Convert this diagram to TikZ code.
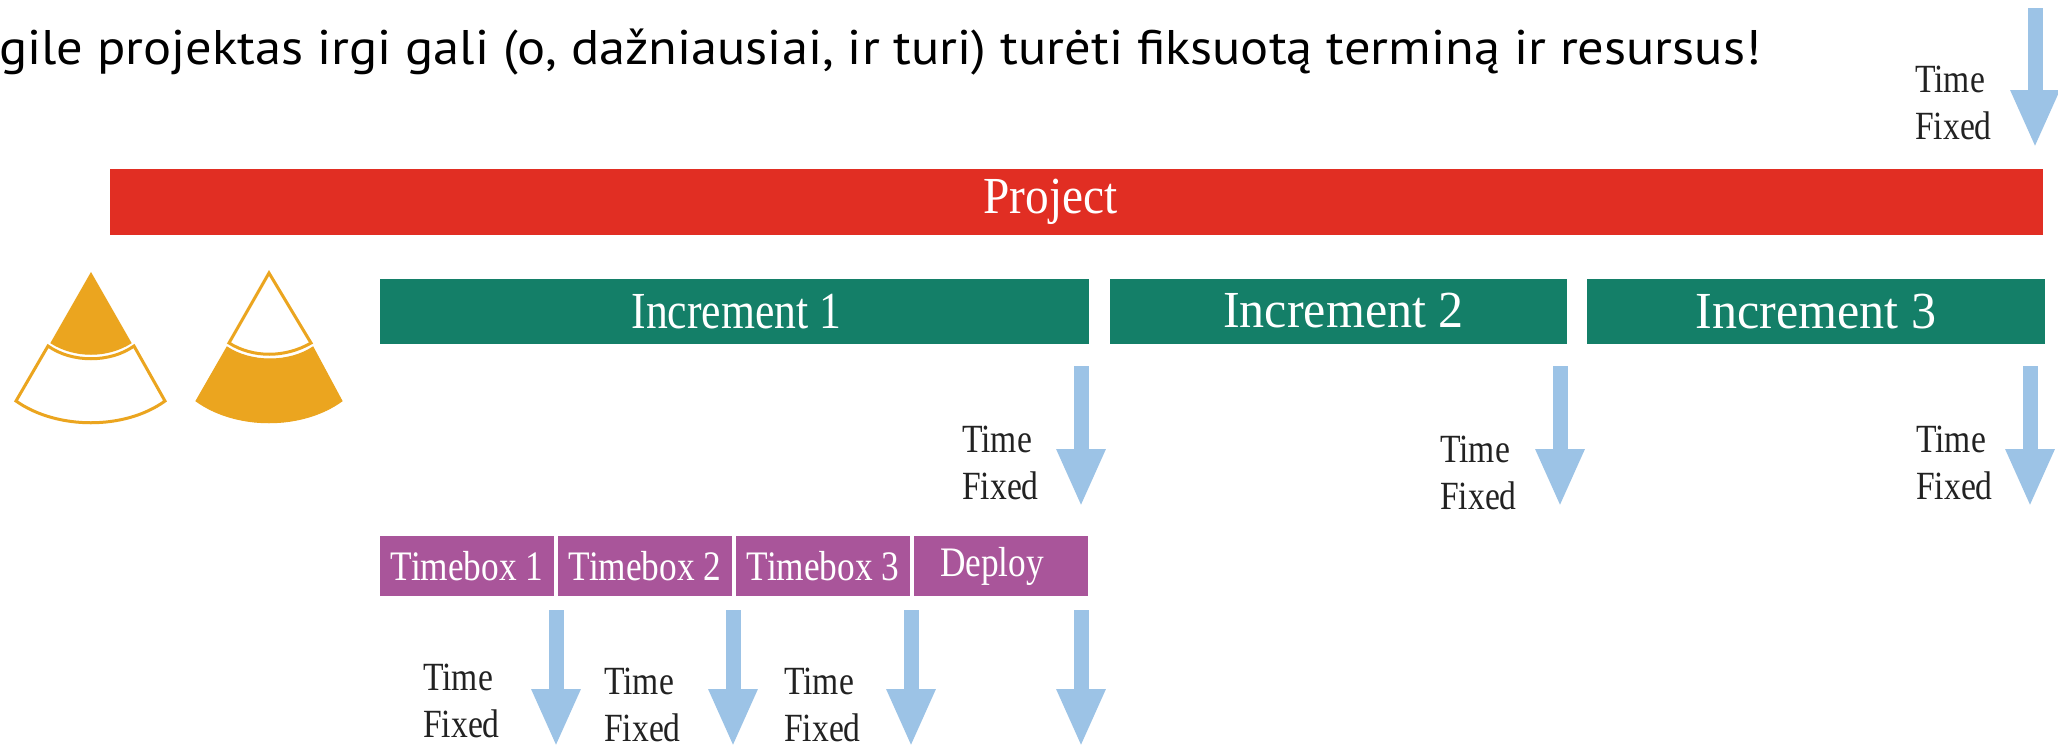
\documentclass[tikz,border=0pt]{standalone}
\usepackage{fontspec}
\usetikzlibrary{arrows.meta}
\setmainfont{Liberation Serif}
\newfontfamily\diagfont[FakeStretch=0.84]{Liberation Serif}
\newfontfamily\barfont[FakeStretch=0.91]{Liberation Serif}
\newfontfamily\titlefont[FakeStretch=1.08]{PT Sans}
\definecolor{projred}{HTML}{E12E23}
\definecolor{incgreen}{HTML}{147F68}
\definecolor{boxpurple}{HTML}{A9559A}
\definecolor{arrowblue}{HTML}{9CC3E6}
\definecolor{coneorange}{HTML}{EBA51F}
\definecolor{labelink}{HTML}{222222}
\tikzset{
  x=1pt,y=-1pt,
  bar/.style={minimum height=#1,inner sep=0pt,outer sep=0pt,text=white,font=\barfont\fontsize{52}{56}\selectfont,anchor=north west},
  timearrow/.style={draw=arrowblue,line width=15pt,-{Triangle[width=45pt,length=58pt,fill=arrowblue]}},
  fixedlabel/.style={anchor=west,align=left,inner sep=0pt,text=labelink,font=\diagfont\fontsize{40}{47}\selectfont},
  coneline/.style={draw=coneorange,line width=3pt,line join=miter,fill=white},
  conefill/.style={draw=coneorange,line width=1pt,fill=coneorange},
}
\begin{document}
\begin{tikzpicture}
\useasboundingbox (0,0) rectangle (2058,747);
\fill[white] (0,0) rectangle (2058,747);

\node[anchor=base west,inner sep=0pt,text=black,font=\titlefont\fontsize{48.6}{54}\selectfont] (title) at (-1,64) {gile projektas irgi gali (o, dažniausiai, ir turi) turėti fiksuotą terminą ir resursus!};

% bars
\node[bar=66pt,fill=projred,minimum width=1933pt] (project) at (110,169) {\hspace*{-52pt}Project};
\node[bar=65pt,fill=incgreen,minimum width=709pt] (inc1) at (380,279) {\hspace*{4pt}\scalebox{0.923}[1]{Increment 1}};
\node[bar=65pt,fill=incgreen,minimum width=457pt] (inc2) at (1110,279) {\hspace*{10pt}\raisebox{3pt}{\scalebox{1.058}[1]{Increment 2}}};
\node[bar=65pt,fill=incgreen,minimum width=458pt] (inc3) at (1587,279) {\scalebox{1.058}[1]{Increment 3}};

\tikzset{tbox/.style={bar=60pt,fill=boxpurple,minimum width=174pt,font=\diagfont\fontsize{42}{46}\selectfont}}
\node[tbox] (tb1) at (380,536) {Timebox 1};
\node[tbox] (tb2) at (558,536) {Timebox 2};
\node[tbox] (tb3) at (736,536) {Timebox 3};
\node[tbox] (tb4) at (914,536) {\hspace*{-18pt}Deploy};

% cones
\path[conefill] (91,273) -- (51,343) .. controls (75,358) and (107,358) .. (131,343) -- cycle;
\path[coneline] (48,346) .. controls (72,363) and (110,363) .. (134,346) -- (165,401) .. controls (125,430) and (57,430) .. (16,401) -- cycle;
\path[coneline] (269,273) -- (229,343) .. controls (253,358) and (285,358) .. (311,343) -- cycle;
\path[conefill] (227,347) .. controls (251,363) and (289,363) .. (313,347) -- (342,401) .. controls (302,430) and (236,430) .. (196,401) -- cycle;

% arrows
\foreach \name/\cx/\ya/\yb in {top/2035/8/148,ia/1081/366/507,ib/1560/366/507,ic/2030/366/507,ta/556/610/747,tb/733/610/747,tc/911/610/747,td/1081/610/747}{
  \coordinate (\name s) at (\cx,\ya);
  \coordinate (\name e) at (\cx,\yb);
  \draw[timearrow] (\name s) -- (\name e);
}

% labels
\node[fixedlabel] (ltop) at (1915,103) {Time\\Fixed};
\node[fixedlabel] (lia) at (962,463) {Time\\Fixed};
\node[fixedlabel] (lib) at (1440,473) {Time\\Fixed};
\node[fixedlabel] (lic) at (1916,463) {Time\\Fixed};
\node[fixedlabel] (lta) at (423,701) {Time\\Fixed};
\node[fixedlabel] (ltb) at (604,705) {Time\\Fixed};
\node[fixedlabel] (ltc) at (784,705) {Time\\Fixed};
\end{tikzpicture}
\end{document}
